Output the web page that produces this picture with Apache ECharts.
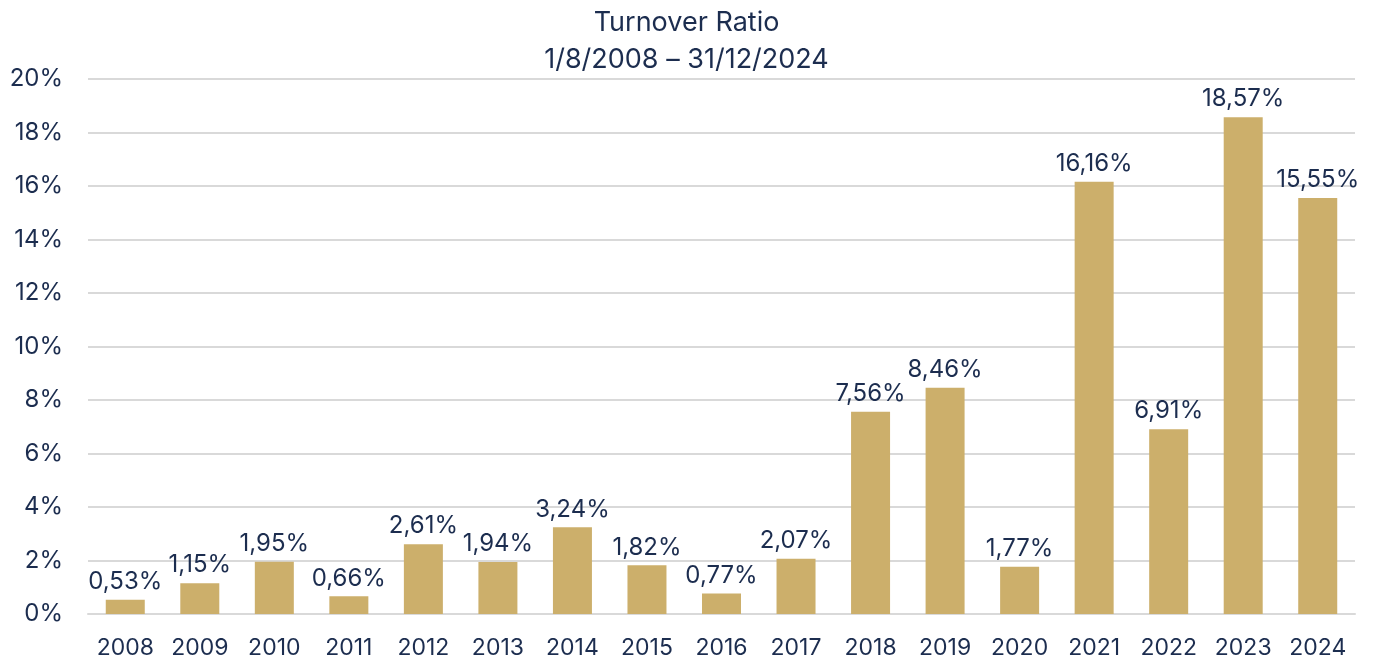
<!DOCTYPE html>
<html>
<head>
<meta charset="utf-8">
<style>
  html, body { margin: 0; padding: 0; background: #fff; }
  #chart { width: 1373px; height: 661px; }
</style>
<script src="https://cdn.jsdelivr.net/npm/echarts@6/dist/echarts.min.js"></script>
</head>
<body>
<div id="chart"></div>
<script>
// data
var years = ['2008', '2009', '2010', '2011', '2012', '2013', '2014', '2015', '2016',
    '2017', '2018', '2019', '2020', '2021', '2022', '2023', '2024'];
var turnover = [0.53, 1.15, 1.95, 0.66, 2.61, 1.94, 3.24, 1.82, 0.77,
    2.07, 7.56, 8.46, 1.77, 16.16, 6.91, 18.57, 15.55];
var titleLines = ['Turnover Ratio', '1/8/2008 \u2013 31/12/2024'];

var navy = '#1c2d4f';
var gold = '#ccaf6b';
var font = 'Inter, "Noto Sans", sans-serif';

function pct(v) {
    return v.toFixed(2).replace('.', ',') + '%';
}

echarts.init(document.getElementById('chart')).setOption({
    animation: false,
    textStyle: {fontFamily: font},
    title: {
        text: titleLines.join('\n'),
        left: 'center',
        top: -1,
        textStyle: {
            color: navy,
            fontSize: 27,
            fontWeight: 'normal',
            lineHeight: 37,
            fontFamily: font
        }
    },
    grid: {left: 88, right: 18, top: 79, bottom: 47},
    xAxis: {
        type: 'category',
        data: years,
        axisLine: {lineStyle: {color: '#d9d9d9', width: 2}},
        axisTick: {show: false},
        axisLabel: {color: navy, fontSize: 23, margin: 23}
    },
    yAxis: {
        type: 'value',
        min: 0,
        max: 20,
        interval: 2,
        axisLine: {show: false},
        axisTick: {show: false},
        splitLine: {lineStyle: {color: '#d9d9d9', width: 2}},
        axisLabel: {
            color: navy,
            fontSize: 24,
            margin: 25,
            formatter: function (v) { return v + '%'; }
        }
    },
    series: [
        {
            type: 'bar',
            data: turnover,
            barWidth: 39,
            itemStyle: {color: gold},
            label: {
                show: true,
                position: 'top',
                distance: 6,
                color: navy,
                fontSize: 24,
                formatter: function (p) { return pct(p.value); }
            }
        }
    ]
});
</script>
</body>
</html>
